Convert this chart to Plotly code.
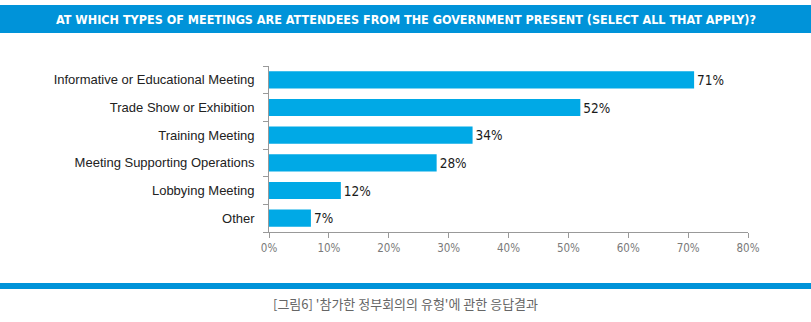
import plotly.graph_objects as go

# Survey responses (share of respondents, %)
categories = [
    "Informative or Educational Meeting",
    "Trade Show or Exhibition",
    "Training Meeting",
    "Meeting Supporting Operations",
    "Lobbying Meeting",
    "Other",
]
values = [71, 52, 34, 28, 12, 7]
x_ticks = [0, 10, 20, 30, 40, 50, 60, 70, 80]
x_tick_labels = [f"{t}%" for t in x_ticks]

title_text = "AT WHICH TYPES OF MEETINGS ARE ATTENDEES FROM THE GOVERNMENT PRESENT (SELECT ALL THAT APPLY)?"
caption_text = "[그림6] '참가한 정부회의의 유형'에 관한 응답결과"

NARROW = "DejaVu Sans Condensed, Liberation Sans Narrow, Arial Narrow, sans-serif"

W, H = 811, 322
ML, MR, MT, MB = 269, 63, 66, 90
pw, ph = W - ML - MR, H - MT - MB


def px_x(x):
    return (x - ML) / pw


def px_y(y):
    return (H - MB - y) / ph


fig = go.Figure(
    go.Bar(
        x=values,
        y=categories,
        orientation="h",
        marker=dict(color="#00A9E6", line=dict(width=0)),
        text=[f"{v}%" for v in values],
        textposition="outside",
        cliponaxis=False,
        textfont=dict(family=NARROW, size=13.5, color="#1a1a1a"),
    )
)

fig.update_layout(
    width=W,
    height=H,
    margin=dict(l=ML, r=MR, t=MT, b=MB),
    paper_bgcolor="white",
    plot_bgcolor="white",
    bargap=0.38,
    showlegend=False,
    xaxis=dict(
        range=[0, 80],
        tickvals=x_ticks,
        ticktext=x_tick_labels,
        ticks="outside",
        ticklen=5,
        tickcolor="#999999",
        showline=True,
        linecolor="#999999",
        showgrid=False,
        zeroline=False,
        tickfont=dict(family=NARROW, size=11.5, color="#7a7a7a"),
    ),
    yaxis=dict(
        categoryorder="array",
        categoryarray=categories[::-1],
        ticks="outside",
        tickson="boundaries",
        ticklen=5,
        tickcolor="#999999",
        showline=True,
        linecolor="#999999",
        showgrid=False,
        ticksuffix="   ",
        tickfont=dict(family="Arial, Liberation Sans", size=13, color="#222222"),
    ),
    shapes=[
        # title banner
        dict(type="rect", xref="paper", yref="paper",
             x0=px_x(0), x1=px_x(W), y0=px_y(33), y1=px_y(5),
             fillcolor="#0093D9", line=dict(width=0), layer="below"),
        # bottom rule
        dict(type="rect", xref="paper", yref="paper",
             x0=px_x(0), x1=px_x(W), y0=px_y(289), y1=px_y(283),
             fillcolor="#0093D9", line=dict(width=0), layer="below"),
    ],
    annotations=[
        dict(text=f"<b>{title_text}</b>", xref="paper", yref="paper",
             x=px_x(W / 2), y=px_y(19), xanchor="center", yanchor="middle",
             showarrow=False,
             font=dict(family=NARROW, size=12.5, color="white")),
        dict(text=caption_text, xref="paper", yref="paper",
             x=px_x(W / 2), y=px_y(303), xanchor="center", yanchor="middle",
             showarrow=False,
             font=dict(family="Noto Sans CJK KR", size=13, color="#666666")),
    ],
)

fig.write_html("out.html")
